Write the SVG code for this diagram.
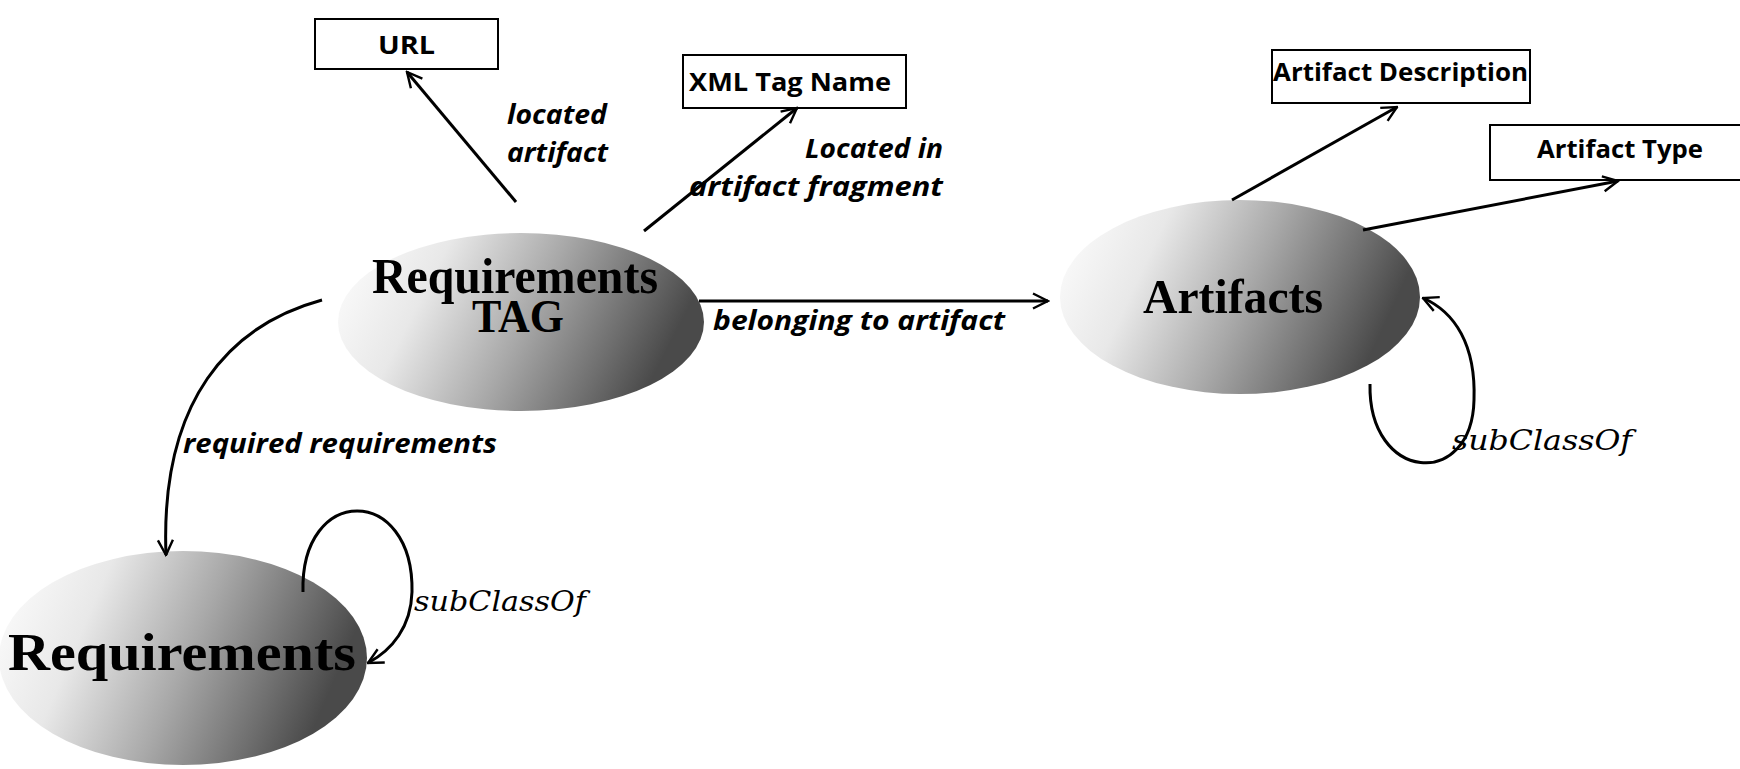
<svg xmlns="http://www.w3.org/2000/svg" width="1740" height="769" viewBox="0 0 1740 769">
<defs>
<linearGradient id="shade" x1="0" y1="0" x2="1" y2="0.25">
<stop offset="0" stop-color="#ffffff"/>
<stop offset="0.3" stop-color="#e8e8e8"/>
<stop offset="0.6" stop-color="#a8a8a8"/>
<stop offset="0.85" stop-color="#6e6e6e"/>
<stop offset="1" stop-color="#4a4a4a"/>
</linearGradient>
<marker id="arr" viewBox="0 0 12 12" refX="11" refY="6" markerWidth="6" markerHeight="6" orient="auto" markerUnits="strokeWidth">
<path d="M1,1 L11,6 L1,11" fill="none" stroke="#000" stroke-width="1.6"/>
</marker>
</defs>
<style>
.box{fill:#fff;stroke:#000;stroke-width:2}
.btxt{font-family:"Open Sans","Liberation Sans",sans-serif;font-weight:700;font-size:25px;fill:#000}
.ell{fill:url(#shade);stroke:none}
.ntxt{font-family:"Liberation Serif",serif;font-weight:700;fill:#000}
.edge{fill:none;stroke:#000;stroke-width:3;marker-end:url(#arr)}
.etxt{font-family:"Open Sans","Liberation Sans",sans-serif;font-style:italic;font-weight:700;font-size:26px;fill:#000}
.stxt{font-family:"DejaVu Serif","Liberation Serif",serif;font-style:italic;font-size:27px;fill:#000}
</style>
<rect width="1740" height="769" fill="#fff"/>

<g id="url">
<rect class="box" x="315" y="19" width="183" height="50"/>
<text class="btxt" x="378" y="54" textLength="57" lengthAdjust="spacingAndGlyphs">URL</text>
</g>
<g id="xmltag">
<rect class="box" x="683" y="55" width="223" height="53"/>
<text class="btxt" x="689" y="91" textLength="202" lengthAdjust="spacingAndGlyphs">XML Tag Name</text>
</g>
<g id="artdesc">
<rect class="box" x="1272" y="50" width="258" height="53"/>
<text class="btxt" x="1273" y="81" textLength="255" lengthAdjust="spacingAndGlyphs">Artifact Description</text>
</g>
<g id="arttype">
<rect class="box" x="1490" y="125" width="256" height="55"/>
<text class="btxt" x="1537" y="158" textLength="166" lengthAdjust="spacingAndGlyphs">Artifact Type</text>
</g>

<g id="reqtag">
<ellipse class="ell" cx="521" cy="322" rx="183" ry="89"/>
<text class="ntxt" x="372" y="293" font-size="50" textLength="286" lengthAdjust="spacingAndGlyphs">Requirements</text>
<text class="ntxt" x="472" y="332" font-size="46" textLength="92" lengthAdjust="spacingAndGlyphs">TAG</text>
</g>
<g id="artifacts">
<ellipse class="ell" cx="1240" cy="297" rx="180" ry="97"/>
<text class="ntxt" x="1143" y="313" font-size="49" textLength="180" lengthAdjust="spacingAndGlyphs">Artifacts</text>
</g>
<g id="requirements">
<ellipse class="ell" cx="183" cy="658" rx="184" ry="107"/>
<text class="ntxt" x="8" y="670" font-size="52" textLength="348" lengthAdjust="spacingAndGlyphs">Requirements</text>
</g>

<g id="connectors">
<path class="edge" d="M516,202 L407,72"/>
<path class="edge" d="M644,231 L797,108"/>
<path class="edge" d="M699,301 L1048,301"/>
<path class="edge" d="M322,300 C 230,325 160,400 166,555"/>
<path class="edge" d="M303,592 C 300,484 414,484 412,592 C 411,627 392,650 368,663"/>
<path class="edge" d="M1232,200 L1397,107"/>
<path class="edge" d="M1363,230 L1618,181"/>
<path class="edge" d="M1370,384 C 1368,482 1472,490 1474,400 C 1476,345 1455,312 1423,298"/>
</g>

<g id="labels">
<text class="etxt" x="507" y="124" textLength="100" lengthAdjust="spacingAndGlyphs">located</text>
<text class="etxt" x="507" y="162" textLength="101" lengthAdjust="spacingAndGlyphs">artifact</text>
<text class="etxt" x="805" y="158" textLength="138" lengthAdjust="spacingAndGlyphs">Located in</text>
<text class="etxt" x="689" y="196" textLength="254" lengthAdjust="spacingAndGlyphs">artifact fragment</text>
<text class="etxt" x="713" y="330" textLength="292" lengthAdjust="spacingAndGlyphs">belonging to artifact</text>
<text class="etxt" x="183" y="453" textLength="314" lengthAdjust="spacingAndGlyphs">required requirements</text>
<text class="stxt" x="414" y="611" textLength="172" lengthAdjust="spacingAndGlyphs">subClassOf</text>
<text class="stxt" x="1452" y="450" textLength="180" lengthAdjust="spacingAndGlyphs">subClassOf</text>
</g>
</svg>
